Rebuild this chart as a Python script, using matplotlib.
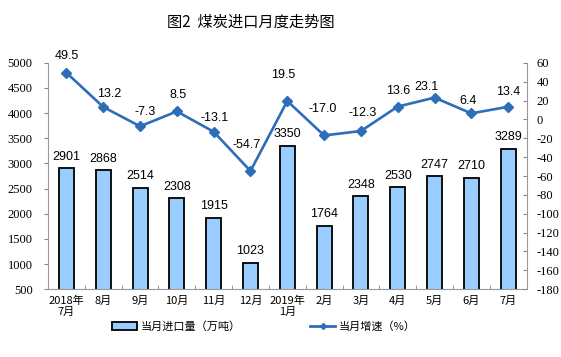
import matplotlib

matplotlib.use("Agg")
import matplotlib.pyplot as plt
from matplotlib.lines import Line2D
from matplotlib.patches import Patch

plt.rcParams["font.family"] = ["Noto Sans CJK SC", "DejaVu Sans"]
plt.rcParams["axes.unicode_minus"] = False

months = ["2018年\n7月", "8月", "9月", "10月", "11月", "12月", "2019年\n1月",
          "2月", "3月", "4月", "5月", "6月", "7月"]
imports = [2901, 2868, 2514, 2308, 1915, 1023, 3350, 1764, 2348, 2530, 2747, 2710, 3289]
growth = [49.5, 13.2, -7.3, 8.5, -13.1, -54.7, 19.5, -17.0, -12.3, 13.6, 23.1, 6.4, 13.4]
growth_labels = ["49.5", "13.2", "-7.3", "8.5", "-13.1", "-54.7", "19.5", "-17.0",
                 "-12.3", "13.6", "23.1", "6.4", "13.4"]
# label nudges (points) for the growth labels, as placed in the source chart
growth_offsets = [(0, 12), (4, 9), (4, 10), (1, 12), (1, 10), (-3, 19), (-3, 19),
                  (-1, 19), (1, 13), (0, 11), (-6, 8), (-2, 9), (0, 11)]

bar_color = "#99CCFF"
line_color = "#2E6DB8"
serif = "Liberation Serif"
num_font = "Liberation Sans"

fig = plt.figure(figsize=(5.61, 3.57), dpi=100)
ax = fig.add_axes([0.0856, 0.19, 0.853, 0.634])
x = list(range(len(months)))

ax.bar(x, imports, width=0.41, bottom=0, color=bar_color, edgecolor="black", linewidth=1.3, zorder=2)
ax.set_ylim(500, 5000)
ax.set_xlim(-0.5, len(months) - 0.5)
ax.set_yticks(range(500, 5001, 500))
ax.set_yticklabels([str(v) for v in range(500, 5001, 500)], fontfamily=serif, fontsize=9)
ax.set_xticks(x)
ax.set_xticklabels(months, fontsize=8, fontfamily=["Noto Sans CJK SC"], linespacing=1.1)
ax.tick_params(axis="x", length=0, pad=5)
ax.set_xticks([i + 0.5 for i in x[:-1]], minor=True)
ax.tick_params(axis="x", which="minor", length=3, direction="in", color="#888888")
ax.tick_params(axis="y", length=3, direction="out", color="#888888", pad=8)
for side in ["top", "right"]:
    ax.spines[side].set_visible(False)
for side in ["left", "bottom"]:
    ax.spines[side].set_color("#999999")

for xi, v in zip(x, imports):
    ax.annotate(str(v), (xi, v), xytext=(0, 4), textcoords="offset points",
                ha="center", va="bottom", fontsize=9, fontfamily=num_font)

ax2 = ax.twinx()
ax2.plot(x, growth, color=line_color, linewidth=1.9, marker="D", markersize=5, zorder=3)
ax2.set_ylim(-180, 60)
ax2.set_yticks(range(-180, 61, 20))
ax2.set_yticklabels([str(v) for v in range(-180, 61, 20)], fontfamily=serif, fontsize=9)
ax2.tick_params(axis="y", length=3, direction="in", color="#888888", pad=7)
for side in ["top", "left", "bottom"]:
    ax2.spines[side].set_visible(False)
ax2.spines["right"].set_color("#999999")

for xi, v, s, off in zip(x, growth, growth_labels, growth_offsets):
    ax2.annotate(s, (xi, v), xytext=off, textcoords="offset points",
                 ha="center", va="center", fontsize=9, fontfamily=num_font)

fig.text(0.447, 0.938, "图2  煤炭进口月度走势图", ha="center", va="center", fontsize=11)

handles = [Patch(facecolor=bar_color, edgecolor="black", linewidth=1.3),
           Line2D([0], [0], color=line_color, linewidth=2, marker="D", markersize=3)]
fig.legend(handles, ["当月进口量（万吨）", "当月增速（%）"], loc="center", bbox_to_anchor=(0.47, 0.085),
           ncol=2, frameon=False, fontsize=8, columnspacing=6.2, handlelength=2.3, handletextpad=0.3)

fig.savefig("out.png", dpi=100)
